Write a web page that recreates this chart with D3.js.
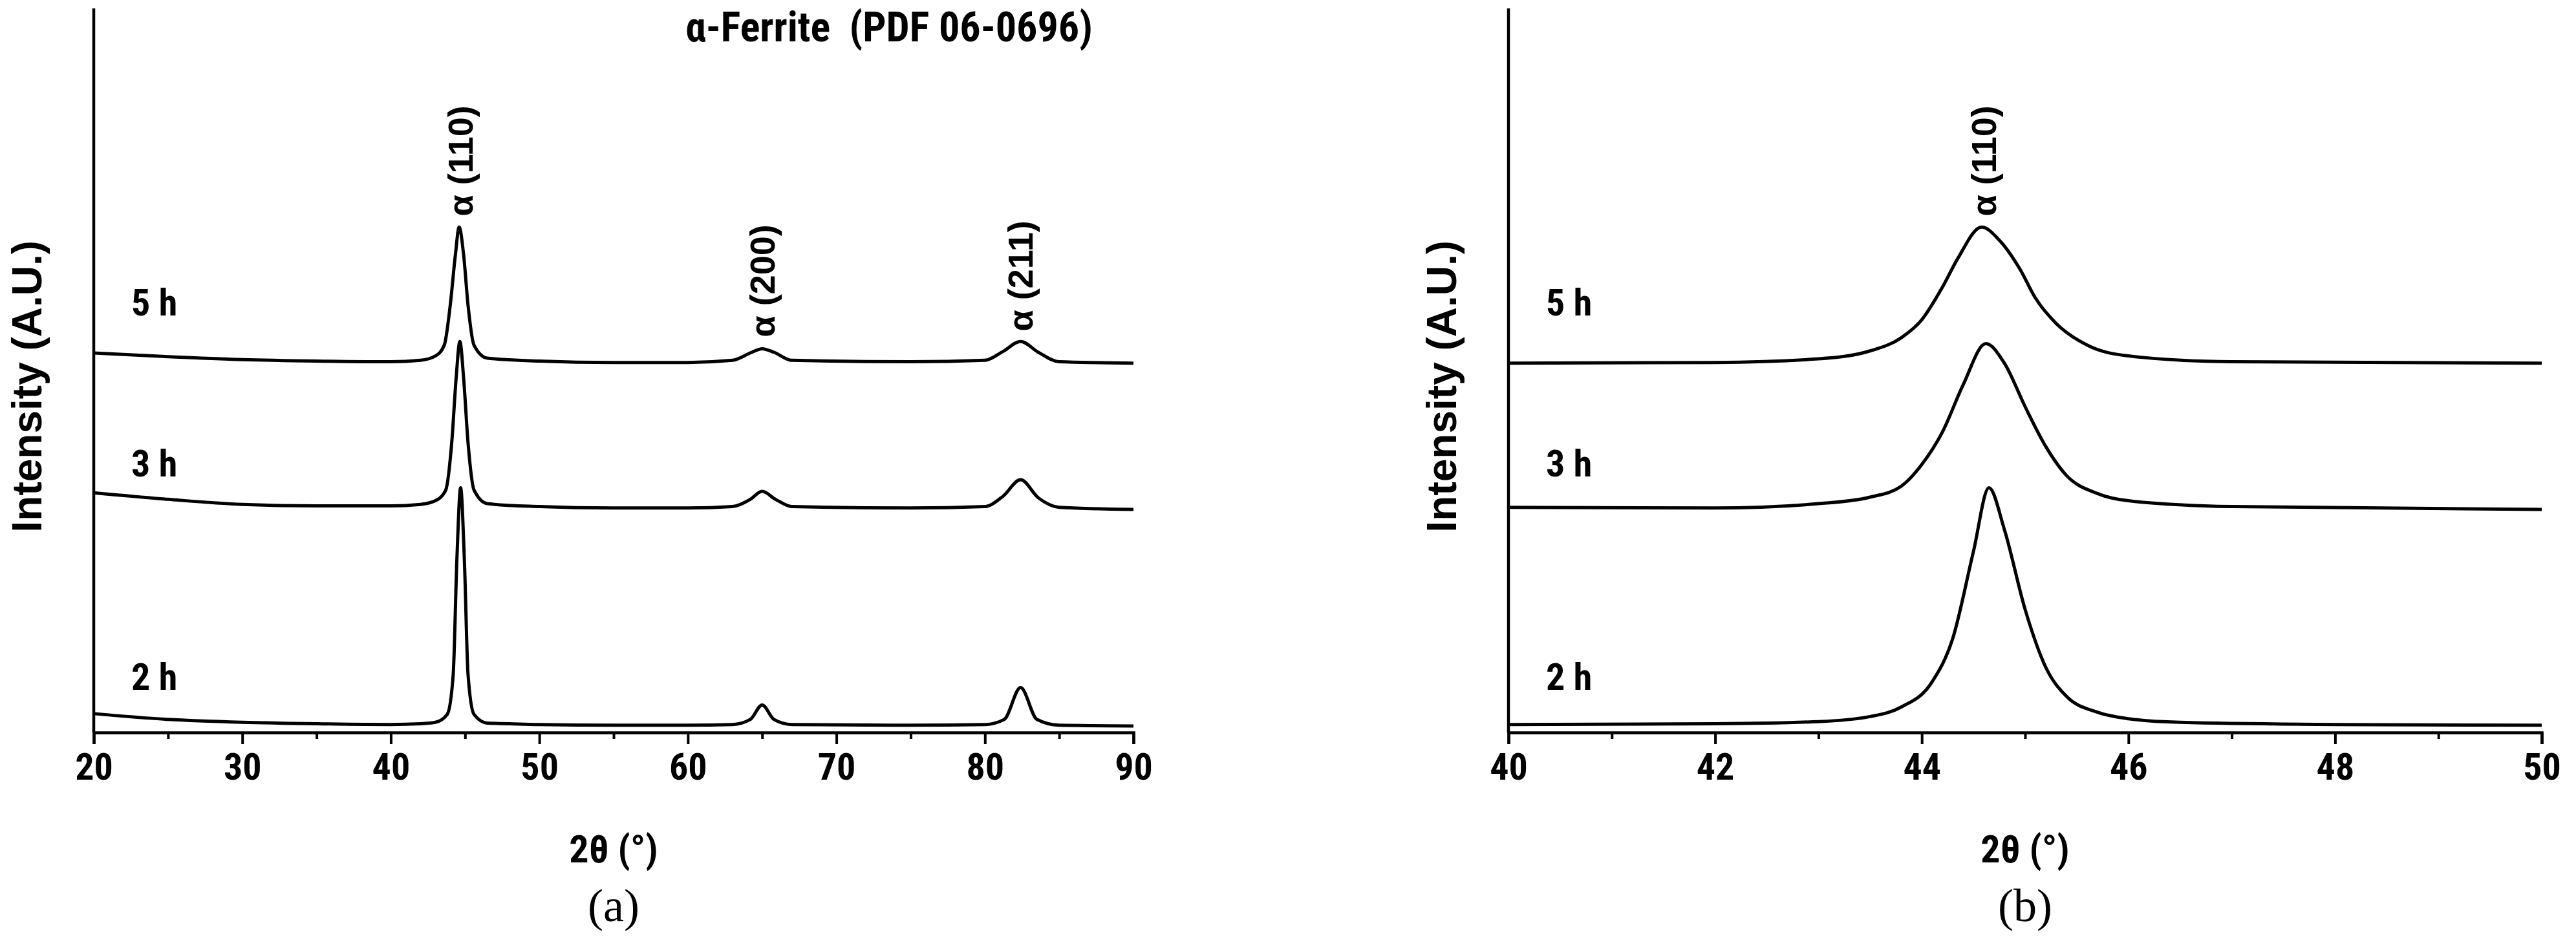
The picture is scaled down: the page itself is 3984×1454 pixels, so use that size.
<!DOCTYPE html>
<html><head><meta charset="utf-8">
<script src="https://cdn.jsdelivr.net/npm/d3@7"></script>
<style>body{margin:0;background:#fff}</style></head>
<body><svg id="c" width="3984" height="1454"></svg>
<script>
// ---- data (2θ, intensity in A.U., offset stacked as plotted) ----
const seriesNames = ["2 h", "3 h", "5 h"];
const a2h = [[20,2.6],[25,1.8],[30,1.4],[35,1.2],[40,1.1],[42,1.2],[43,1.4],[43.8,2.5],[44.2,8],[44.45,24],[44.7,33.8],[44.95,24],[45.2,8],[45.6,2.5],[46.5,1.3],[50,1.1],[55,1.0],[60,1.0],[63,1.1],[64.2,1.8],[65,3.8],[65.8,1.8],[67,1.1],[75,1.0],[80,1.1],[81.3,1.8],[82.4,6.2],[83.5,1.8],[85,1.0],[90,0.9]];
const a3h = [[20,33.1],[25,32.2],[30,31.5],[35,31.3],[40,31.3],[42,31.5],[43,32],[43.7,33.5],[44.1,40],[44.4,49],[44.65,54.0],[44.9,49],[45.2,40],[45.6,33.5],[46.5,31.6],[50,31.2],[55,31.0],[60,31.0],[63,31.2],[64.2,32.2],[65,33.3],[65.9,32.2],[67,31.2],[75,31.0],[80,31.2],[81.2,32.6],[82.4,34.9],[83.6,32.4],[85,31.1],[90,30.8]];
const a5h = [[20,52.4],[25,51.9],[30,51.5],[35,51.3],[40,51.2],[42,51.4],[43,52],[43.6,53.5],[44.0,59],[44.35,66],[44.6,69.8],[44.9,66],[45.2,59],[45.6,53.5],[46.5,51.7],[50,51.3],[55,51.1],[60,51.1],[63,51.4],[64.3,52.5],[65,53.0],[65.8,52.5],[67,51.4],[75,51.2],[80,51.4],[81.2,52.6],[82.4,54.0],[83.6,52.5],[85,51.2],[90,51.0]];
const b2h = [[40,1.1],[42,1.2],[43,1.5],[43.5,2.2],[43.8,3.5],[44.1,7],[44.3,13],[44.5,25],[44.65,33.8],[44.8,28],[45.0,17],[45.2,9],[45.4,5],[45.7,2.8],[46,1.9],[46.5,1.4],[48,1.1],[50,1.0]];
const b3h = [[40,31.1],[42,31.0],[43,31.6],[43.5,32.5],[43.8,34],[44.0,37],[44.2,41.5],[44.4,48],[44.62,53.7],[44.8,51],[45.0,45],[45.2,39.5],[45.4,35.5],[45.7,33],[46,32],[47,31.2],[50,30.8]];
const b5h = [[40,51.0],[42,51.1],[43,51.6],[43.5,52.7],[43.8,54.5],[44.0,57],[44.2,61.5],[44.35,65.5],[44.58,69.8],[44.75,68],[44.95,64],[45.1,60],[45.3,56.5],[45.6,53.5],[46,52],[47,51.2],[50,51.0]];
const aTicks = [20,30,40,50,60,70,80,90];
const bTicks = [40,42,44,46,48,50];
const aPeaks = [[44.7,"α (110)",71.3],[65.0,"α (200)",54.6],[82.4,"α (211)",55.4]];
const bPeaks = [[44.6,"α (110)",71.3]];
const labelY = [[5.9,"2 h"],[35.4,"3 h"],[57.6,"5 h"]];

const svg = d3.select("#c");
const cond = "'Liberation Sans Narrow','Roboto Condensed','DejaVu Sans Condensed',sans-serif";

function panel(o){
  const x = d3.scaleLinear().domain(o.dom).range([o.x0,o.x1]);
  const y = d3.scaleLinear().domain([0,100]).range([1133,13]);
  const g = svg.append("g");
  const ax = g.append("g").attr("transform","translate(0,1133)")
    .call(d3.axisBottom(x).tickValues(o.ticks).tickSize(18).tickPadding(14).tickFormat(d3.format("d")));
  g.append("g").attr("transform","translate(0,1133)")
    .call(d3.axisBottom(x).tickValues(o.minor).tickSize(10).tickFormat(""))
    .call(s=>s.select(".domain").remove());
  g.selectAll(".tick line").attr("stroke-width",4);
  ax.select(".domain").attr("stroke-width",4.5);
  ax.selectAll("text").attr("font-family",cond).attr("font-weight","bold").attr("font-size",58).attr("fill","#000");
  g.append("line").attr("x1",o.x0).attr("x2",o.x0).attr("y1",y(100)).attr("y2",1133).attr("stroke","#000").attr("stroke-width",4.5);
  const line = d3.line().x(d=>x(d[0])).y(d=>y(d[1])).curve(d3.curveMonotoneX);
  o.series.forEach(s=>g.append("path").datum(s).attr("d",line).attr("fill","none").attr("stroke","#000").attr("stroke-width",5).attr("stroke-linejoin","round"));
  labelY.forEach(l=>g.append("text").attr("x",o.x0+58).attr("y",y(l[0])).text(l[1])
    .attr("font-family",cond).attr("font-weight","bold").attr("font-size",58));
  o.peaks.forEach(p=>g.append("text").attr("transform",`translate(${x(p[0])+19},${y(p[2])}) rotate(-90)`).text(p[1])
    .attr("font-family","'Liberation Sans',Arial,sans-serif").attr("font-weight","bold").attr("font-size",54));
  const cx=(o.x0+o.x1)/2;
  g.append("text").attr("x",cx).attr("y",1334).attr("text-anchor","middle").text("2θ (°)")
    .attr("font-family",cond).attr("font-weight","bold").attr("font-size",60);
  g.append("text").attr("x",cx).attr("y",1425).attr("text-anchor","middle").text(o.tag)
    .attr("font-family","'Liberation Serif','Times New Roman',serif").attr("font-size",72);
  g.append("text").attr("transform",`translate(${o.x0-81},${y(47.8)}) rotate(-90)`).attr("text-anchor","middle")
    .text("Intensity (A.U.)").attr("font-family","'Liberation Sans',Arial,sans-serif").attr("font-weight","bold").attr("font-size",64);
}
panel({dom:[20,90],x0:145,x1:1753,ticks:aTicks,minor:d3.range(25,90,10),series:[a2h,a3h,a5h],peaks:aPeaks,tag:"(a)"});
panel({dom:[40,50],x0:2333,x1:3931,ticks:bTicks,minor:d3.range(41,50,2),series:[b2h,b3h,b5h],peaks:bPeaks,tag:"(b)"});
svg.append("text").attr("x",1375).attr("y",64).attr("text-anchor","middle").text("α-Ferrite  (PDF 06-0696)")
  .attr("font-family",cond).attr("font-weight","bold").attr("font-size",64).style("white-space","pre");
</script></body></html>
